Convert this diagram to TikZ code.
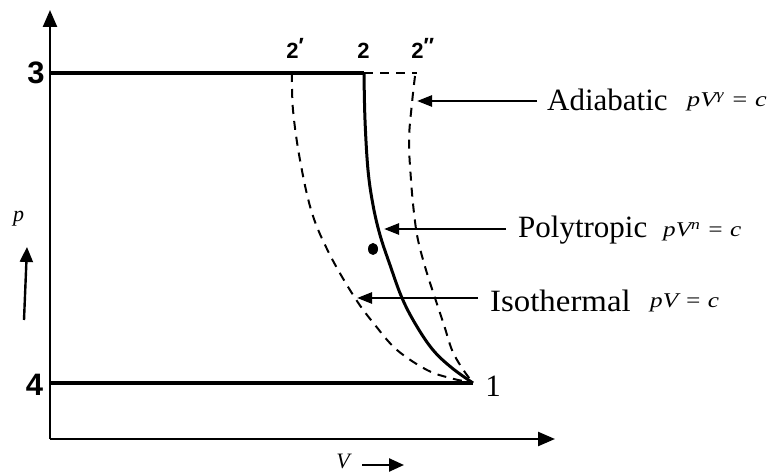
\documentclass[tikz,border=0pt]{standalone}
\usepackage{fontspec}
\usepackage{graphicx}
\setmainfont{Liberation Serif}
\newfontfamily\lsans{Liberation Sans}
\usetikzlibrary{arrows.meta}
\newcommand{\fml}[2]{\scalebox{#1}[1]{\itshape #2}}
\begin{document}
\begin{tikzpicture}[x=1pt,y=-1pt,
  axisline/.style={line width=2.4pt,-{Triangle[length=17pt,width=14pt]}},
  cycleline/.style={line width=3.8pt},
  solidcurve/.style={line width=3pt},
  dashcurve/.style={line width=2pt,dash pattern=on 9pt off 7pt},
  callout/.style={line width=2.5pt,-{Triangle[length=15pt,width=11pt]}},
  dirarrow/.style={line width=2.4pt,-{Triangle[length=15pt,width=13pt]}},
  bignum/.style={inner sep=0pt,font=\lsans\bfseries\fontsize{31}{31}\selectfont},
  topnum/.style={inner sep=0pt,anchor=base,font=\lsans\bfseries\fontsize{22}{22}\selectfont},
  procname/.style={inner sep=0pt,anchor=base west,font=\fontsize{31}{31}\selectfont},
  formula/.style={inner sep=0pt,anchor=base west,font=\fontsize{21}{21}\selectfont},
  axislab/.style={inner sep=0pt,font=\itshape\fontsize{22}{22}\selectfont}
]
\useasboundingbox (0,0) rectangle (772,473);

% axes
\coordinate (O) at (50,439);
\coordinate (ytop) at (50,10);
\coordinate (xend) at (555,439);
\draw[axisline] (O) -- (ytop);
\draw[axisline] (O) -- (xend);

% state points
\coordinate (s3) at (50,73);
\coordinate (s4) at (50,383);
\coordinate (s2) at (364,73);
\coordinate (s2i) at (292,73);
\coordinate (s2ii) at (417,73);
\coordinate (s1) at (473,383);

% cycle lines
\draw[cycleline] (s3) -- (s2);
\draw[cycleline] (s4) -- (s1);
\draw[dashcurve] (s2) -- (s2ii);

% polytropic (solid)
\draw[solidcurve] plot[smooth,tension=0.6] coordinates {(364,73) (365,120) (368,170) (373,205) (380,235) (390,265) (402,298) (416,325) (433,350) (452,368) (473,383)};
% isothermal (dashed)
\draw[dashcurve] plot[smooth,tension=0.6] coordinates {(292,73) (293,110) (300,160) (312,213) (330,255) (355,298) (375,325) (397,350) (427,370) (450,378) (473,383)};
% adiabatic (dashed)
\draw[dashcurve] plot[smooth,tension=0.6] coordinates {(415,76) (412,103) (409,140) (411,180) (414,213) (418,240) (426,270) (435,298) (444,325) (452,350) (462,368) (473,383)};

% smudge
\fill (373,249) ellipse [x radius=5pt, y radius=6pt];

% state labels
\node[bignum] (l3) at (36,72.5) {3};
\node[bignum] (l4) at (34.5,385) {4};
\node[inner sep=0pt,font=\fontsize{31}{31}\selectfont] (l1) at (493,386) {1};
\node[topnum] (l2i) at (292.5,59) {2\rlap{\raisebox{5pt}{′}}};
\node[topnum] (l2) at (363.5,59) {2};
\node[topnum] (l2ii) at (417.5,59) {2\rlap{\raisebox{5pt}{″}}};

% process labels
\node[procname] (adia) at (547,111) {Adiabatic};
\node[formula] (adiaf) at (687,107) {\fml{1.25}{pV\textsuperscript{γ} = c}};
\node[procname] (poly) at (518,238) {Polytropic};
\node[formula] (polyf) at (663,237) {\fml{1.2}{pV\textsuperscript{n} = c}};
\node[procname] (iso) at (490,312) {\scalebox{1.06}[1]{Isothermal}};
\node[formula] (isof) at (650,308) {\fml{1.2}{pV = c}};

\coordinate (a1s) at (537,101);
\coordinate (a1e) at (417,101);
\coordinate (a2s) at (506,229);
\coordinate (a2e) at (384,229);
\coordinate (a3s) at (478,298);
\coordinate (a3e) at (357,298);
\draw[callout] (a1s) -- (a1e);
\draw[callout] (a2s) -- (a2e);
\draw[callout] (a3s) -- (a3e);

% axis labels
\node[axislab] (plab) at (18.5,218.5) {p};
\coordinate (pa1) at (24,320);
\coordinate (pa2) at (27,247);
\draw[dirarrow] (pa1) -- (pa2);
\node[axislab] (vlab) at (343,461) {V};
\coordinate (va1) at (362,465);
\coordinate (va2) at (404,465);
\draw[dirarrow] (va1) -- (va2);
\end{tikzpicture}
\end{document}
